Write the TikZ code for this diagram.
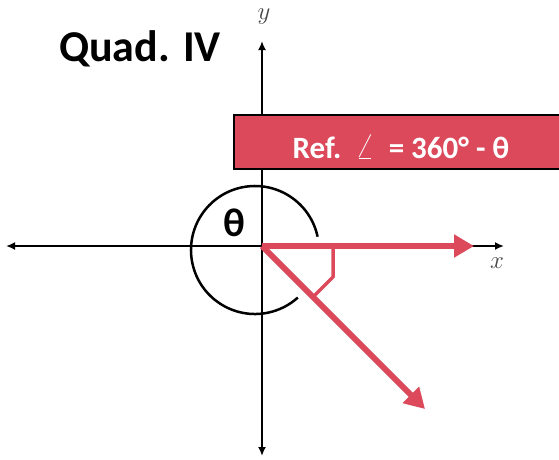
\documentclass[tikz,border=0pt]{standalone}
\usepackage{fontspec}
\setmainfont{Carlito}
\usetikzlibrary{arrows.meta}
\definecolor{refred}{RGB}{219,73,91}
\definecolor{axlabel}{RGB}{70,70,70}
\begin{document}
\begin{tikzpicture}[x=1pt,y=-1pt,line width=2.5pt,every node/.style={inner sep=1pt}]
\useasboundingbox (0,0) rectangle (559,459);
\coordinate (O) at (262,246);
\coordinate (XL) at (6,246);
\coordinate (XR) at (504,246);
\coordinate (YT) at (262,41);
\coordinate (YB) at (262,456);
\coordinate (C) at (255,250);
\coordinate (A) at (474,246);
\coordinate (P) at (425,409);
\coordinate (M1) at (333,246);
\coordinate (M2) at (333,277);
\coordinate (M3) at (313,297);
\draw[{Latex[length=9pt,width=8pt]}-{Latex[length=9pt,width=8pt]}] (XL) -- (XR);
\draw[{Latex[length=9pt,width=8pt]}-{Latex[length=9pt,width=8pt]}] (YT) -- (YB);
\draw (C) ++(-12:64) arc[start angle=-12, end angle=-312, radius=64];
\node (th) at (234,223) {\fontsize{40}{44}\selectfont\bfseries θ};
\node[text=axlabel] (xl) at (497,263) {\fontsize{24}{26}\selectfont$x$};
\node[text=axlabel] (yl) at (264,17) {\fontsize{24}{26}\selectfont$y$};
\node (quad) at (140,49) {\fontsize{44}{50}\selectfont\bfseries Quad. IV};
\draw[fill=refred] (234,115) rectangle (566,169);
\node[text=white] (ref) at (401,147) {\fontsize{31}{34}\selectfont\bfseries Ref.\ \ {\fontsize{40}{42}\selectfont$\angle$}\ \ = 360° - θ};
\begin{scope}[refred]
\draw[line width=6pt,-{Triangle[length=20pt,width=22pt]}] (O) -- (A);
\draw[line width=6pt,-{Triangle[length=20pt,width=22pt]}] (O) -- (P);
\draw[line width=3.5pt,line join=round] (M1) -- (M2) -- (M3);
\end{scope}
\end{tikzpicture}
\end{document}
